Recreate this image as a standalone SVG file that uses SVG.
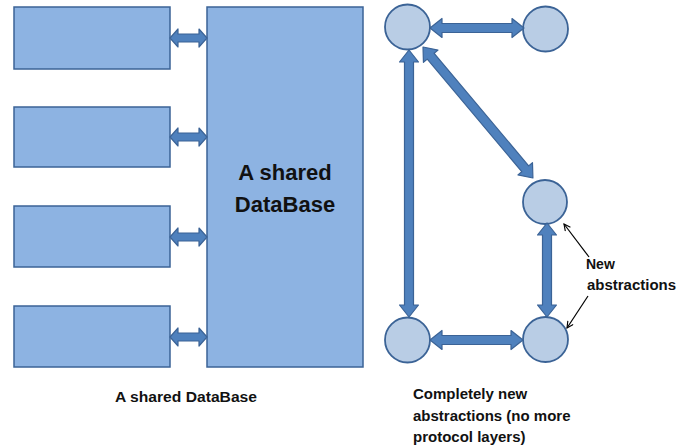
<svg xmlns="http://www.w3.org/2000/svg" width="689" height="446" viewBox="0 0 689 446">
  <style>
    .box { fill: #8DB3E2; stroke: #3B6396; stroke-width: 1.5; }
    .node { fill: #B9CDE5; stroke: #3B6396; stroke-width: 1.8; }
    .link { fill: #4F81BD; stroke: #3B6396; stroke-width: 1.2; stroke-linejoin: round; }
    .pointer { fill: none; stroke: #000; stroke-width: 1.2; }
    .label { font-family: "Liberation Sans", Arial, sans-serif; font-weight: bold; fill: #111; }
  </style>
  <defs>
    <marker id="open-tip" viewBox="0 0 10 10" refX="9" refY="5" markerWidth="8" markerHeight="8" orient="auto" markerUnits="userSpaceOnUse">
      <path d="M1,1 L9,5 L1,9" fill="none" stroke="#000" stroke-width="1.4"/>
    </marker>
  </defs>

  <rect width="689" height="446" fill="#fff"/>

  <!-- client boxes -->
  <g id="client-1"><rect class="box" x="14" y="7" width="156" height="62"/></g>
  <g id="client-2"><rect class="box" x="14" y="107" width="156" height="60"/></g>
  <g id="client-3"><rect class="box" x="14" y="206" width="156" height="61"/></g>
  <g id="client-4"><rect class="box" x="14" y="306" width="156" height="61"/></g>

  <!-- shared database -->
  <g id="database">
    <rect class="box" x="207" y="7" width="156" height="360"/>
    <text class="label" x="285" y="180" font-size="22" text-anchor="middle">A shared</text>
    <text class="label" x="285" y="212" font-size="22" text-anchor="middle">DataBase</text>
  </g>

  <!-- peer nodes -->
  <g id="peer-top-left"><circle class="node" cx="407.5" cy="27" r="22.5"/></g>
  <g id="peer-top-right"><circle class="node" cx="545.5" cy="29" r="22.5"/></g>
  <g id="peer-middle-right"><circle class="node" cx="545" cy="202" r="22"/></g>
  <g id="peer-bottom-left"><circle class="node" cx="407.5" cy="340" r="22.5"/></g>
  <g id="peer-bottom-right"><circle class="node" cx="545.5" cy="339.5" r="22.5"/></g>

  <g id="connectors">
    <!-- client to database links -->
    <path class="link" d="M170,38 L178,29 L178,34 L199,34 L199,29 L207,38 L199,47 L199,42 L178,42 L178,47 Z"/>
    <path class="link" d="M170,137 L178,128 L178,133 L199,133 L199,128 L207,137 L199,146 L199,141 L178,141 L178,146 Z"/>
    <path class="link" d="M170,237 L178,228 L178,233 L199,233 L199,228 L207,237 L199,246 L199,241 L178,241 L178,246 Z"/>
    <path class="link" d="M170,337 L178,328 L178,333 L199,333 L199,328 L207,337 L199,346 L199,341 L178,341 L178,346 Z"/>

    <!-- peer links, drawn along x then placed -->
    <path class="link" transform="translate(430,28)" d="M0,0 L12,-9.5 L12,-4.5 L82,-4.5 L82,-9.5 L94,0 L82,9.5 L82,4.5 L12,4.5 L12,9.5 Z"/>
    <path class="link" transform="translate(409,50) rotate(90)" d="M0,0 L12,-9.5 L12,-4.5 L255,-4.5 L255,-9.5 L267,0 L255,9.5 L255,4.5 L12,4.5 L12,9.5 Z"/>
    <path class="link" transform="translate(423,47) rotate(50)" d="M0,0 L12,-9.5 L12,-4.5 L159,-4.5 L159,-9.5 L171,0 L159,9.5 L159,4.5 L12,4.5 L12,9.5 Z"/>
    <path class="link" transform="translate(547,223) rotate(90)" d="M0,0 L12,-9.5 L12,-4.5 L82,-4.5 L82,-9.5 L94,0 L82,9.5 L82,4.5 L12,4.5 L12,9.5 Z"/>
    <path class="link" transform="translate(430,340)" d="M0,0 L12,-9.5 L12,-4.5 L81,-4.5 L81,-9.5 L93,0 L81,9.5 L81,4.5 L12,4.5 L12,9.5 Z"/>

    <!-- callout pointers -->
    <line class="pointer" x1="589" y1="257" x2="564" y2="224" marker-end="url(#open-tip)"/>
    <line class="pointer" x1="588" y1="296" x2="567" y2="328" marker-end="url(#open-tip)"/>
  </g>

  <!-- captions -->
  <text class="label" x="586" y="269" font-size="14">New</text>
  <text class="label" x="587" y="290" font-size="14" textLength="89" lengthAdjust="spacingAndGlyphs">abstractions</text>

  <text class="label" x="115" y="402" font-size="14" textLength="142" lengthAdjust="spacingAndGlyphs">A shared DataBase</text>

  <text class="label" x="413" y="399" font-size="15">Completely new</text>
  <text class="label" x="413" y="421" font-size="15">abstractions (no more</text>
  <text class="label" x="413" y="442" font-size="15">protocol layers)</text>
</svg>
